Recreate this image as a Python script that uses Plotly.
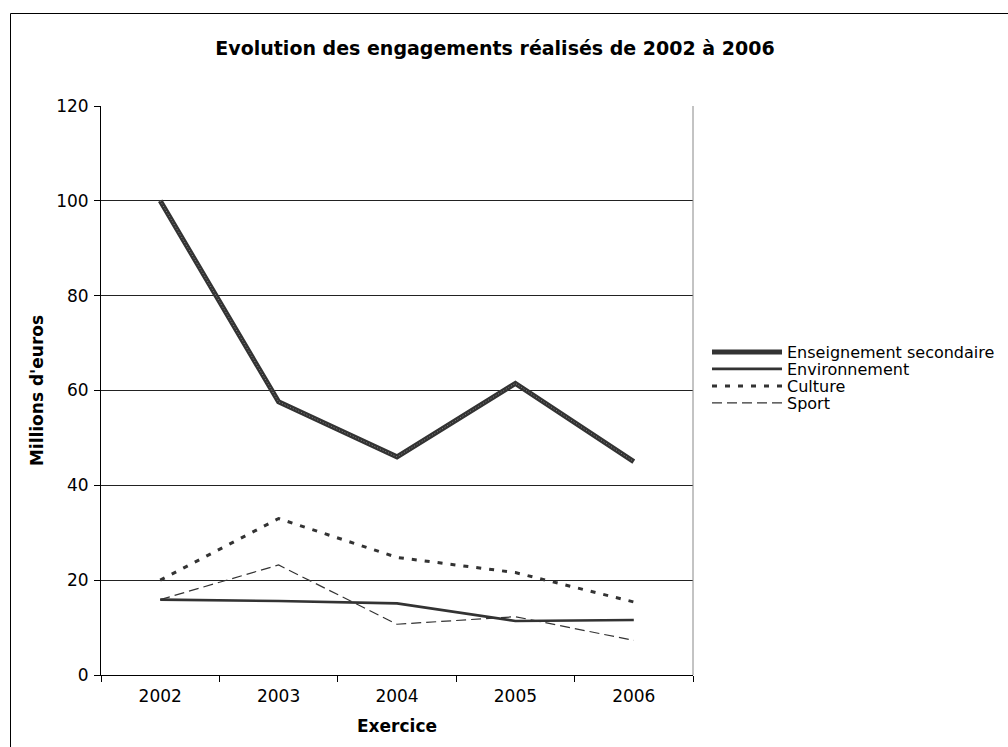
import plotly.graph_objects as go

years = ["2002", "2003", "2004", "2005", "2006"]
enseignement = [100.0, 57.6, 46.0, 61.5, 45.0]
environnement = [15.9, 15.6, 15.1, 11.4, 11.6]
culture = [20.0, 33.0, 24.8, 21.6, 15.4]
sport = [15.9, 23.2, 10.7, 12.3, 7.3]

FONT = "DejaVu Sans"

fig = go.Figure()
fig.add_trace(go.Scatter(x=years, y=enseignement, mode="lines", name="Enseignement secondaire",
                         line=dict(color="#333333", width=5), legend="legend"))
fig.add_trace(go.Scatter(x=years, y=enseignement, mode="lines", showlegend=False, hoverinfo="skip",
                         line=dict(color="#8a8a8a", width=1, dash="1px,2px")))
fig.add_trace(go.Scatter(x=years, y=environnement, mode="lines", name="Environnement",
                         line=dict(color="#333333", width=2.6), legend="legend2"))
fig.add_trace(go.Scatter(x=years, y=culture, mode="lines", name="Culture",
                         line=dict(color="#333333", width=3, dash="5px,8px"), legend="legend3"))
fig.add_trace(go.Scatter(x=years, y=sport, mode="lines", name="Sport",
                         line=dict(color="#333333", width=1.2, dash="10px,5px"), legend="legend4"))

L, R, T, B = 101, 693, 106, 675
W, H = 1008, 747
pw, ph = R - L, B - T

def px(x):
    return (x - L) / pw

def py(y):
    return (B - y) / ph

def leg(ycenter):
    return dict(x=px(707), y=py(ycenter), xanchor="left", yanchor="middle",
                font=dict(size=16, family=FONT), bgcolor="rgba(0,0,0,0)",
                itemwidth=70, borderwidth=0)

fig.update_layout(
    width=W, height=H,
    margin=dict(l=L, r=W - R, t=T, b=H - B, autoexpand=False),
    paper_bgcolor="white", plot_bgcolor="white",
    font=dict(family=FONT, size=17, color="#000000"),
    title=dict(text="<b>Evolution des engagements réalisés de 2002 à 2006</b>",
               x=px(495), xref="paper", xanchor="center",
               y=1 - 48 / H, yanchor="middle", font=dict(size=19, family=FONT)),
    showlegend=True,
    legend=leg(352),
    legend2=leg(369),
    legend3=leg(386),
    legend4=leg(403),
    xaxis=dict(type="category", range=[-0.5, 4.5], showgrid=False,
               showline=True, linecolor="#000000", linewidth=1, mirror=False,
               ticks="outside", tickson="boundaries", ticklen=6, tickcolor="#000000",
               ticklabelstandoff=6,
               title=dict(text="<b>Exercice</b>", font=dict(size=17), standoff=14),
               tickfont=dict(size=17)),
    yaxis=dict(range=[0, 120], tickvals=[0, 20, 40, 60, 80, 100, 120],
               showgrid=True, gridcolor="#222222", gridwidth=1,
               showline=True, linecolor="#000000", linewidth=1,
               ticks="outside", ticklen=6, tickcolor="#000000",
               ticklabelstandoff=2,
               zeroline=False,
               title=dict(text="<b>Millions d'euros</b>", font=dict(size=17), standoff=8),
               tickfont=dict(size=17)),
    shapes=[
        dict(type="rect", xref="paper", yref="paper",
             x0=px(10.5), x1=px(1015), y0=py(755), y1=py(13.5),
             line=dict(color="#000000", width=1), fillcolor="rgba(0,0,0,0)", layer="below"),
        dict(type="line", xref="paper", yref="paper", x0=1, x1=1, y0=0, y1=1,
             line=dict(color="#888888", width=1)),
    ],
)

fig.write_html("out.html")
